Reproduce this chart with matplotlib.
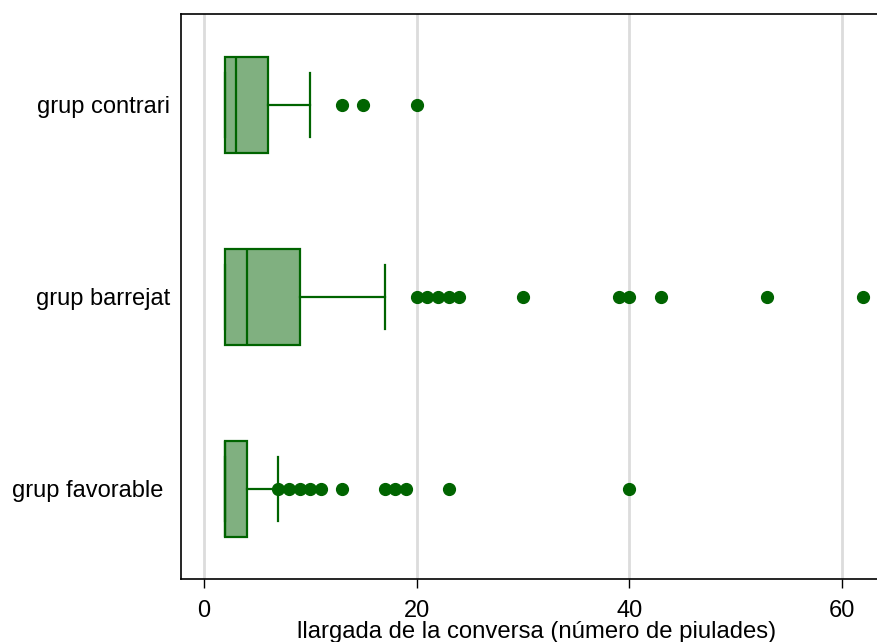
import matplotlib
matplotlib.use('Agg')
import matplotlib.pyplot as plt

plt.rcParams['font.family'] = ['Liberation Sans', 'DejaVu Sans']

# groups, top to bottom in the picture
groups = ['grup contrari', 'grup barrejat', 'grup favorable ']
lower_whisker = [2, 2, 2]
q1 = [2, 2, 2]
median = [3, 4, 2]
q3 = [6, 9, 4]
upper_whisker = [10, 17, 7]
outliers = [
    [13, 15, 20],
    [20, 21, 22, 23, 24, 30, 39, 40, 43, 53, 62],
    [7, 8, 9, 10, 11, 13, 17, 18, 19, 23, 40],
]
xticks = [0, 20, 40, 60]

dark_green = '#006400'
box_fill = '#80b080'

fig = plt.figure(figsize=(8.77, 6.42), dpi=100)
ax = fig.add_axes([0.2064, 0.0981, 0.7936, 0.8801])

stats = []
for i in range(len(groups)):
    stats.append({
        'label': groups[i],
        'whislo': lower_whisker[i],
        'q1': q1[i],
        'med': median[i],
        'q3': q3[i],
        'whishi': upper_whisker[i],
        'fliers': outliers[i],
    })

positions = [3, 2, 1]
ax.bxp(stats, positions=positions, vert=False, widths=0.5, patch_artist=True,
       boxprops=dict(facecolor=box_fill, edgecolor=dark_green, linewidth=1.6),
       medianprops=dict(color=dark_green, linewidth=1.6),
       whiskerprops=dict(color=dark_green, linewidth=1.6),
       capprops=dict(color=dark_green, linewidth=1.6),
       capwidths=0.333,
       flierprops=dict(marker='o', markerfacecolor=dark_green,
                       markeredgecolor=dark_green, markersize=8.5),
       zorder=3)

ax.set_xlim(-2.16, 63.3)
ax.set_ylim(0.53, 3.474)
ax.set_xticks(xticks)
ax.set_xticklabels([str(t) for t in xticks], fontsize=17)
ax.set_yticks(positions)
ax.set_yticklabels(groups, fontsize=17)
ax.tick_params(axis='y', length=0, pad=8)
ax.tick_params(axis='x', length=6.5, width=1, pad=8.5)
ax.grid(axis='x', color='#dcdcdc', linewidth=2, zorder=0)
ax.set_axisbelow(True)
ax.spines['right'].set_visible(False)
for s in ['left', 'top', 'bottom']:
    ax.spines[s].set_linewidth(1.2)
ax.set_xlabel('llargada de la conversa (número de piulades)', fontsize=17.2, labelpad=0)
ax.xaxis.set_label_coords(0.511, -0.075)

fig.savefig('out.png', dpi=100)
